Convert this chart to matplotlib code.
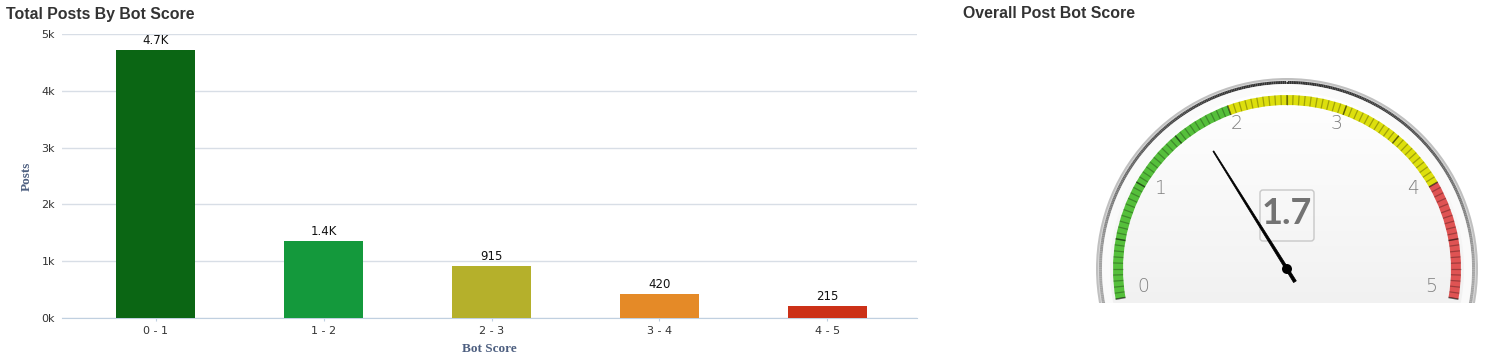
import numpy as np
import matplotlib
matplotlib.use("Agg")
import matplotlib.pyplot as plt
from matplotlib.patches import Wedge, Circle, FancyBboxPatch, Polygon
from matplotlib.collections import LineCollection

# ---------------- data ----------------
categories = ["0 - 1", "1 - 2", "2 - 3", "3 - 4", "4 - 5"]
posts = [4718, 1360, 915, 420, 215]
post_labels = ["4.7K", "1.4K", "915", "420", "215"]
bar_colors = ["#0B6614", "#14993C", "#B5B02B", "#E58A27", "#CC3118"]
y_ticks = [0, 1000, 2000, 3000, 4000, 5000]
y_tick_labels = ["0k", "1k", "2k", "3k", "4k", "5k"]

gauge_value = 1.7
gauge_min, gauge_max = 0, 5
gauge_bands = [(0, 2, "#55BF3B"), (2, 4, "#DDDF0D"), (4, 5, "#DF5353")]
gauge_tick_labels = [0, 1, 2, 3, 4, 5]

W, H = 1493, 361
fig = plt.figure(figsize=(W / 100, H / 100), dpi=100)
fig.patch.set_facecolor("white")

def fx(x): return x / W
def fy(y): return 1 - y / H

# ---------------- bar chart ----------------
left, right, top, bottom = 62, 917, 34, 318
ax = fig.add_axes([fx(left), fy(bottom), fx(right - left), (bottom - top) / H])
xpos = np.arange(len(categories))
ax.bar(xpos, posts, width=0.47, color=bar_colors, zorder=3)
ax.set_xlim(-0.557, 4.533)
ax.set_ylim(0, 5000)
ax.set_yticks(y_ticks)
ax.set_yticklabels(y_tick_labels, fontsize=8, color="#333333")
ax.set_xticks(xpos)
ax.set_xticklabels(categories, fontsize=8, color="#333333")
ax.tick_params(axis="y", length=0, pad=5)
ax.tick_params(axis="x", length=5, color="#C0D0E0", pad=3, direction="inout")
ax.grid(axis="y", color="#D8DEE6", linewidth=1, zorder=0)
for s in ["top", "right", "left"]:
    ax.spines[s].set_visible(False)
ax.spines["bottom"].set_color("#C0D0E0")
ax.set_xlabel("Bot Score", fontsize=9.5, color="#4D5F80", fontweight="bold",
              family="Liberation Serif", labelpad=5)
ax.set_ylabel("Posts", fontsize=9.5, color="#4D5F80", fontweight="bold",
              family="Liberation Serif", labelpad=6)
for x, v, lab in zip(xpos, posts, post_labels):
    ax.annotate(lab, (x, v), xytext=(0, 2), textcoords="offset points",
                ha="center", va="bottom", fontsize=8.5, color="#111111")

fig.text(fx(6), fy(14), "Total Posts By Bot Score", fontsize=11.4, fontweight="bold",
         color="#333333", family="Liberation Sans", va="center", ha="left")
fig.text(fx(963), fy(14), "Overall Post Bot Score", fontsize=11.4, fontweight="bold",
         color="#333333", family="Liberation Sans", va="center", ha="left")

# ---------------- gauge ----------------
clip_y = 303
gx0, gx1 = 1050, 1493
gax = fig.add_axes([fx(gx0), fy(clip_y), fx(gx1 - gx0), clip_y / H])
gax.axis("off")

cx, cy = 1287, H - 269

def ang(v):
    return 190 - 200 * (v - gauge_min) / (gauge_max - gauge_min)

# outer bezel
gax.add_patch(Circle((cx, cy), 191, facecolor="#C0C0C0", edgecolor="none", zorder=1))
gax.add_patch(Circle((cx, cy), 189, facecolor="#DADADA", edgecolor="none", zorder=1))
th = np.linspace(-20, 200, 400)
pts = np.column_stack([cx + 186.5 * np.cos(np.radians(th)), cy + 186.5 * np.sin(np.radians(th))])
segs = np.stack([pts[:-1], pts[1:]], axis=1)
mid = np.radians((th[:-1] + th[1:]) / 2)
shade = 0.2 + 0.45 * (1 - np.clip(np.sin(mid), 0, 1))
cols = [(s, s, s) for s in shade]
gax.add_collection(LineCollection(segs, colors=cols, linewidths=2.2, zorder=2))
gax.add_patch(Circle((cx, cy), 185, facecolor="#FAFAFA", edgecolor="none", zorder=3))
face = Circle((cx, cy), 177, facecolor="none", edgecolor="none", zorder=4)
gax.add_patch(face)
grad = np.linspace(1.0, 0.91, 256).reshape(-1, 1)
img = gax.imshow(np.dstack([grad, grad, grad]), extent=[cx - 177, cx + 177, cy - 177, cy + 177],
                 origin="upper", aspect="auto", zorder=4, interpolation="bilinear")
img.set_clip_path(face)
gax.set_xlim(gx0, gx1)
gax.set_ylim(H - clip_y, H)

# bands
r_out, r_in = 174, 164
for a, b, c in gauge_bands:
    gax.add_patch(Wedge((cx, cy), r_out, ang(b), ang(a), width=r_out - r_in,
                        facecolor=c, edgecolor="none", zorder=5))

def tick_segs(values):
    out = []
    for v in values:
        t = np.radians(ang(v))
        out.append([(cx + r_in * np.cos(t), cy + r_in * np.sin(t)),
                    (cx + r_out * np.cos(t), cy + r_out * np.sin(t))])
    return out

gax.add_collection(LineCollection(tick_segs(np.arange(gauge_min, gauge_max + 1e-9, 0.05)),
                                  colors=[(0, 0, 0, 0.28)], linewidths=0.9, zorder=6))
gax.add_collection(LineCollection(tick_segs(np.arange(gauge_min, gauge_max + 1e-9, 0.5)),
                                  colors=[(0, 0, 0, 0.42)], linewidths=1.1, zorder=6))

# tick labels
for v in gauge_tick_labels:
    t = np.radians(ang(v))
    r = 146
    gax.text(cx + r * np.cos(t), cy + r * np.sin(t) + 8, str(v), fontsize=13.5,
             color="#808080", ha="center", va="center", family="DejaVu Sans",
             fontweight="light", zorder=7)

# value box
gax.add_patch(FancyBboxPatch((1260, H - 241), 54, 51, boxstyle="round,pad=0,rounding_size=3",
                             facecolor="none", edgecolor="#C8C8C8", linewidth=1, zorder=7))
gax.text(1287, H - 213, f"{gauge_value:.1f}", fontsize=26, color="#737373",
         ha="center", va="center", family="Lato", fontweight="bold", zorder=7)

# needle
t = np.radians(ang(gauge_value))
ux, uy = np.cos(t), np.sin(t)
px, py = -uy, ux
tip_r, tail_r = 139, -15
needle = [
    (cx + tip_r * ux + 0.5 * px, cy + tip_r * uy + 0.5 * py),
    (cx + tip_r * ux - 0.5 * px, cy + tip_r * uy - 0.5 * py),
    (cx + tail_r * ux - 1.6 * px, cy + tail_r * uy - 1.6 * py),
    (cx + tail_r * ux + 1.6 * px, cy + tail_r * uy + 1.6 * py),
]
gax.add_patch(Polygon(needle, closed=True, facecolor="black", edgecolor="black",
                      linewidth=0.5, zorder=8))
gax.add_patch(Circle((cx, cy), 5, facecolor="black", edgecolor="none", zorder=9))

fig.savefig("out.png", dpi=100)
